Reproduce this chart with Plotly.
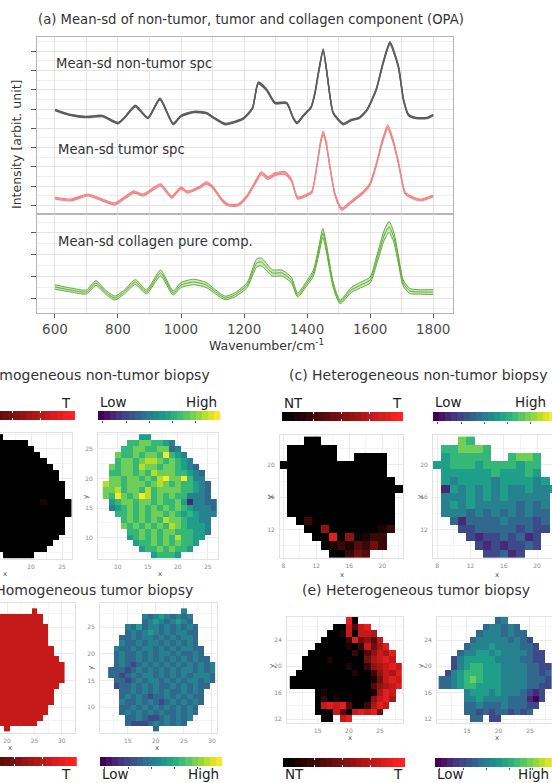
import plotly.graph_objects as go

W, H = 552, 783
FONT = "DejaVu Sans"

# ---------------- spectra (a) ----------------
nt_wn = [600, 650, 700, 750, 800, 820, 855, 895, 933, 975, 1000, 1040, 1080, 1100, 1140, 1170, 1200, 1227, 1245, 1272,
         1298, 1335, 1356, 1368, 1390, 1413, 1425, 1436, 1451, 1463, 1473, 1483, 1515, 1540, 1565, 1590, 1620, 1642,
         1663, 1690, 1706, 1722, 1745, 1780, 1800]
nt_mean = [1.04, 0.99, 0.97, 0.98, 0.91, 0.96, 1.08, 0.96, 1.15, 0.90, 0.98, 1.02, 1.01, 0.97, 0.90, 0.92, 0.96, 1.06,
           1.31, 1.24, 1.11, 1.11, 0.96, 0.91, 0.99, 1.07, 1.21, 1.41, 1.64, 1.41, 1.17, 1.01, 0.90, 0.94, 0.96, 1.04,
           1.25, 1.52, 1.71, 1.47, 1.14, 0.99, 0.96, 0.96, 0.99]
nt_sd = [0.006, 0.006, 0.006, 0.006, 0.007, 0.006, 0.007, 0.006, 0.007, 0.007, 0.006, 0.006, 0.006, 0.006, 0.007,
         0.006, 0.006, 0.007, 0.009, 0.008, 0.007, 0.007, 0.006, 0.007, 0.006, 0.007, 0.008, 0.009, 0.011, 0.009,
         0.008, 0.007, 0.007, 0.006, 0.006, 0.007, 0.008, 0.010, 0.012, 0.010, 0.008, 0.007, 0.006, 0.006, 0.006]

tu_wn = [600, 650, 705, 750, 790, 820, 850, 880, 935, 970, 1000, 1020, 1060, 1080, 1100, 1130, 1150, 1180, 1210, 1240,
         1255, 1275, 1300, 1330, 1350, 1370, 1400, 1415, 1432, 1443, 1451, 1460, 1471, 1489, 1510, 1540, 1579, 1600,
         1621, 1640, 1656, 1672, 1690, 1711, 1730, 1760, 1800]
tu_mean = [0.16, 0.14, 0.19, 0.14, 0.10, 0.16, 0.22, 0.19, 0.29, 0.17, 0.26, 0.22, 0.27, 0.31, 0.27, 0.14, 0.09, 0.09,
           0.18, 0.34, 0.41, 0.36, 0.40, 0.41, 0.34, 0.16, 0.19, 0.22, 0.50, 0.72, 0.81, 0.72, 0.50, 0.19, 0.05, 0.12,
           0.22, 0.30, 0.51, 0.74, 0.87, 0.74, 0.51, 0.21, 0.17, 0.14, 0.18]
tu_sd = [0.010, 0.010, 0.010, 0.010, 0.011, 0.010, 0.011, 0.010, 0.012, 0.011, 0.011, 0.011, 0.011, 0.012, 0.011,
         0.011, 0.011, 0.011, 0.012, 0.014, 0.015, 0.014, 0.014, 0.014, 0.013, 0.012, 0.011, 0.012, 0.015, 0.018,
         0.020, 0.018, 0.016, 0.013, 0.012, 0.011, 0.012, 0.013, 0.016, 0.019, 0.022, 0.019, 0.016, 0.013, 0.011,
         0.010, 0.010]

co_wn = [600, 650, 700, 730, 760, 790, 820, 855, 890, 935, 975, 1000, 1040, 1080, 1110, 1140, 1170, 1210, 1240, 1255,
         1290, 1320, 1350, 1370, 1400, 1420, 1437, 1450, 1463, 1480, 1492, 1505, 1540, 1570, 1600, 1621, 1645, 1660,
         1675, 1690, 1705, 1726, 1760, 1800]
co_mean = [0.26, 0.23, 0.21, 0.30, 0.21, 0.15, 0.21, 0.31, 0.21, 0.40, 0.20, 0.28, 0.31, 0.28, 0.21, 0.15, 0.18, 0.28,
           0.50, 0.51, 0.40, 0.40, 0.33, 0.18, 0.30, 0.40, 0.62, 0.80, 0.62, 0.32, 0.19, 0.11, 0.23, 0.28, 0.33, 0.53,
           0.78, 0.86, 0.76, 0.53, 0.30, 0.22, 0.21, 0.21]
co_sd = [0.022, 0.020, 0.020, 0.024, 0.020, 0.020, 0.020, 0.024, 0.020, 0.030, 0.020, 0.025, 0.028, 0.025, 0.020,
         0.018, 0.020, 0.025, 0.040, 0.040, 0.032, 0.030, 0.028, 0.020, 0.025, 0.030, 0.040, 0.045, 0.040, 0.030,
         0.022, 0.018, 0.025, 0.028, 0.030, 0.040, 0.050, 0.055, 0.050, 0.040, 0.030, 0.025, 0.022, 0.025]

wn_ticks = [600, 800, 1000, 1200, 1400, 1600, 1800]

# ---------------- score maps (b)-(e), rows from top (max y) downwards ----------------
b_x = list(range(8, 27))
b_ytop = 27
b_prob = [
    "......00...........",
    "....00000000.......",
    "...0000000000......",
    "..000000000000.....",
    "..0000000000000....",
    ".000000000000000...",
    ".0000000000000000..",
    ".0000000000000000..",
    "000000000000000000.",
    "000000000000000000.",
    "000000000000000000.",
    ".000000000000010000",
    ".000000000000000000",
    "..00000000000000000",
    "...000000000000000.",
    "...000000000000000.",
    "....00000000000000.",
    "....0000000000000..",
    ".....00000000000...",
    "......000000000....",
    "........00000......",
]
b_coll = [
    "......55...........",
    "....66776654.......",
    "...6677667734......",
    "..766767769654.....",
    "..6776788767654....",
    ".767768776776543...",
    ".6677676877766543..",
    ".7767767689779644..",
    "877677767876766543.",
    "778677686777766543.",
    "769767986767664443.",
    ".567767767667514433",
    ".456767676767654443",
    "..66767677676565444",
    "...676767687765544.",
    "...767676768765554.",
    "....66767677666554.",
    "....5676767686655..",
    ".....56676767665...",
    "......566767665....",
    "........56665......",
]

c_x = list(range(8, 23))
c_ytop = 23
c_prob = [
    "...00..........",
    ".000000........",
    ".000000..0000..",
    "0000000000000..",
    ".000000000000..",
    ".0000000000000.",
    ".00000000000000",
    ".0000000000000.",
    ".0000000000000.",
    ".0000000000000.",
    "..020000000000.",
    "...00500000012.",
    "....008050122..",
    ".....01213242..",
    "......00243....",
]
c_coll = [
    "...76..........",
    ".667776........",
    ".566666..6776..",
    "5566656666566..",
    ".555555655565..",
    ".5455554555545.",
    ".15454545445445",
    ".4445454544444.",
    ".4545444443434.",
    ".4443434343433.",
    "..313333433323.",
    "...22333332322.",
    "....212232312..",
    ".....21212232..",
    "......22312....",
]

d_x = list(range(12, 31))
d_ytop = 28
d_prob = [
    ".............7.....",
    "......777777777....",
    "......777777777....",
    "...7777777777777...",
    "...7777777777777...",
    "..77777777777777...",
    "..77777777777777...",
    ".7777777777777777..",
    ".7777777777777777..",
    ".77777777777777777.",
    ".777777777777777777",
    "7777777777777777777",
    "7777777777777777777",
    ".777777777777777777",
    ".77777777777777777.",
    "..777777777777777..",
    "..777777777777777..",
    "..777777777777777..",
    "..77777777777777...",
    "..77777777777777...",
    "...777777777777....",
    "...77777777777.....",
    "........7..........",
]
d_coll = [
    ".............4.....",
    "......434543434....",
    "......345434543....",
    "...4353443434343...",
    "...3434543434433...",
    "..33434434343443...",
    "..43343443434343...",
    ".4334344343434433..",
    ".3433434344343343..",
    ".34334343434343433.",
    ".343234343434343434",
    "3332343434343443434",
    "3323434434343434443",
    ".332343443434344343",
    ".23343434334343433.",
    "..334343434334343..",
    "..343432334343433..",
    "..433434323434343..",
    "..33434343434343...",
    "..34343434334343...",
    "...334322343434....",
    "...32223434343.....",
    "........3..........",
]

e_x = list(range(11, 29))
e_ytop = 27
e_prob = [
    ".........80.......",
    ".......007378.....",
    "......00170776....",
    ".....0000284537...",
    "....000001027468..",
    "...00000002035768.",
    "..000010000046787.",
    "..0000000100256787",
    ".00000000010025768",
    "000000000000014787",
    "000000000000035678",
    "....0100000001687.",
    "....0201000005786.",
    "....078783002687..",
    "....00073078784...",
    ".....00.78........",
]
e_coll = [
    ".........34.......",
    ".......344343.....",
    "......34443433....",
    ".....3444443432...",
    "....344454444332..",
    "...34455454444322.",
    "..245555544443322.",
    "..2456655544443322",
    ".24566655544443323",
    "334567655544443332",
    "334566555544443322",
    "....4555454443212.",
    "....4454444333102.",
    "....334333433322..",
    "....33232332323...",
    ".....33.22........",
]

bar_levels = list(range(20))
red_bar_ticks = [4.7, 9.3, 13.9]
vir_bar_ticks = [0.3, 4.1, 7.9, 11.7, 15.5]

RED_SCALE = [[0, "#000000"], [1, "#ff2222"]]
VIR_SCALE = "Viridis"

# ---------------- figure ----------------
fig = go.Figure()
lay = dict(width=W, height=H, margin=dict(l=0, r=0, t=0, b=0, autoexpand=False), paper_bgcolor="white",
           plot_bgcolor="white", showlegend=False, font=dict(family=FONT, color="#333333"),
           annotations=[])
n_axes = [0]


def add_axes(x0, x1, y0, y1, xkw, ykw):
    n_axes[0] += 1
    n = n_axes[0]
    s = "" if n == 1 else str(n)
    lay["xaxis" + s] = dict(domain=[max(0.0, x0 / W), min(1.0, x1 / W)], anchor="y" + s, **xkw)
    lay["yaxis" + s] = dict(domain=[max(0.0, 1 - y1 / H), min(1.0, 1 - y0 / H)], anchor="x" + s, **ykw)
    return "x" + s, "y" + s


def label(text, px, py, size, xanchor="center", color="#333333", angle=0):
    lay["annotations"].append(dict(text=text, x=px / W, y=1 - py / H, xref="paper", yref="paper",
                                   showarrow=False, xanchor=xanchor, yanchor="middle", textangle=angle,
                                   font=dict(size=size, color=color, family=FONT)))


GRID = "#e4e4e4"
FRAME = "#b5b5b5"


def spec_x(bottom):
    d = dict(range=[543, 1863], tickvals=wn_ticks, showgrid=True, gridcolor=GRID, gridwidth=1,
             minor=dict(tick0=600, dtick=100, showgrid=True, gridcolor=GRID, gridwidth=0.8),
             zeroline=False, showline=True, linecolor=FRAME, linewidth=1, mirror=True)
    if bottom:
        d.update(ticks="outside", ticklen=4, tickcolor="#555555",
                 tickfont=dict(size=13.5, color="#4d4d4d", family=FONT))
    else:
        d.update(showticklabels=False, ticks="")
    return d


def spec_y(rng, t0, dt):
    return dict(range=rng, tick0=t0, dtick=dt, ticks="outside", ticklen=5, tickcolor="#555555",
                showticklabels=False, showgrid=True, gridcolor=GRID, gridwidth=1,
                minor=dict(tick0=t0, dtick=dt / 2, showgrid=True, gridcolor="#efefef", gridwidth=0.8),
                zeroline=False, showline=True, linecolor=FRAME, linewidth=1, mirror=True)


xa1, ya1 = add_axes(37, 453, 37, 214, spec_x(False), spec_y([0, 1.77], 0.085, 0.193))
xa2, ya2 = add_axes(37, 453, 214, 313, spec_x(True), spec_y([0, 0.99], 0.15, 0.217))


def band(xr, yr, wn, mean, sd, color, width, fillcolor=None):
    lo = [m - s for m, s in zip(mean, sd)]
    hi = [m + s for m, s in zip(mean, sd)]
    ln = dict(color=color, width=width, shape="spline", smoothing=0.6)
    fig.add_trace(go.Scatter(x=wn, y=lo, mode="lines", line=ln, xaxis=xr, yaxis=yr, hoverinfo="skip"))
    fig.add_trace(go.Scatter(x=wn, y=hi, mode="lines", line=ln, xaxis=xr, yaxis=yr, hoverinfo="skip",
                             fill="tonexty" if fillcolor else None, fillcolor=fillcolor))
    fig.add_trace(go.Scatter(x=wn, y=mean, mode="lines", line=ln, xaxis=xr, yaxis=yr, hoverinfo="skip"))


band(xa1, ya1, nt_wn, nt_mean, nt_sd, "#5e5e5e", 1.4)
band(xa1, ya1, tu_wn, tu_mean, tu_sd, "#f08585", 1.1, "rgba(240,133,133,0.5)")
band(xa2, ya2, co_wn, co_mean, co_sd, "#5fae35", 1.0, "rgba(120,190,80,0.35)")

label("(a) Mean-sd of non-tumor, tumor and collagen component (OPA)", 36, 20, 13.2, "left")
label("Mean-sd non-tumor spc", 54, 63, 13.2, "left")
label("Mean-sd tumor spc", 56, 149, 13.2, "left")
label("Mean-sd collagen pure comp.", 56, 241, 13.2, "left")
label("Intensity [arbit. unit]", 17, 145, 12.5, angle=-90)
label("Wavenumber/cm<sup>-1</sup>", 266, 345, 12.5)


# ---------------- maps ----------------
def parse(grid):
    width = max(len(r) for r in grid)
    rows = []
    for s in grid:
        s = s.ljust(width, ".")
        rows.append([None if ch == "." else int(ch) for ch in s])
    return rows[::-1]


def map_axes(x0, x1, y0, y1, xr, yr, xdt, ydt, xlab=True, ylab=True):
    common = dict(tick0=0, showgrid=True, gridcolor="#ebebeb", gridwidth=1, zeroline=False,
                  showline=True, mirror=True, linecolor="#e2e2e2", linewidth=1, ticks="",
                  tickfont=dict(size=6, color="#8a8a8a", family=FONT))
    xkw = dict(range=xr, dtick=xdt, showticklabels=xlab, ticklabelstandoff=2,
               minor=dict(tick0=0, dtick=xdt / 2, showgrid=True, gridcolor="#f4f4f4", gridwidth=0.6), **common)
    ykw = dict(range=yr, dtick=ydt, showticklabels=ylab, ticklabelstandoff=3,
               minor=dict(tick0=0, dtick=ydt / 2, showgrid=True, gridcolor="#f4f4f4", gridwidth=0.6), **common)
    return add_axes(x0, x1, y0, y1, xkw, ykw)


def add_map(axes, xs, ytop, grid, scale):
    z = parse(grid)
    ys = list(range(ytop - len(grid) + 1, ytop + 1))
    fig.add_trace(go.Heatmap(z=z, x=xs, y=ys, colorscale=scale, zmin=0, zmax=9, showscale=False,
                             xaxis=axes[0], yaxis=axes[1], hoverinfo="skip"))


# (b)
add_map(map_axes(0, 72, 433, 559, [15.0, 26.6], [6.4, 27.7], 5, 5, True, False), b_x, b_ytop, b_prob, RED_SCALE)
add_map(map_axes(98, 218, 433, 559, [6.7, 26.7], [6.4, 27.7], 5, 5), b_x, b_ytop, b_coll, VIR_SCALE)
# (c)
add_map(map_axes(280, 403, 435, 558, [7.6, 22.5], [8.5, 23.7], 4, 4), c_x, c_ytop, c_prob, RED_SCALE)
add_map(map_axes(433, 552, 435, 558, [7.5, 21.8], [8.5, 23.7], 4, 4), c_x, c_ytop, c_coll, VIR_SCALE)
# (d)
add_map(map_axes(0, 75, 603, 733, [18.7, 32.4], [5.2, 29.5], 5, 5, True, False), d_x, d_ytop, d_prob, RED_SCALE)
add_map(map_axes(100, 217, 603, 733, [10.05, 30.9], [5.2, 29.5], 5, 5), d_x, d_ytop, d_coll, VIR_SCALE)
# (e)
add_map(map_axes(287, 403, 617, 723, [10.05, 28.7], [11.4, 27.5], 5, 4), e_x, e_ytop, e_prob, RED_SCALE)
add_map(map_axes(437, 552, 617, 723, [10.24, 28.5], [11.4, 27.5], 5, 4), e_x, e_ytop, e_coll, VIR_SCALE)


# ---------------- colour bars ----------------
def add_bar(x0, x1, y0, y1, xr, scale, red):
    if red:
        xkw = dict(range=xr, showgrid=False, zeroline=False, showline=False, showticklabels=False,
                   tickvals=red_bar_ticks, ticks="inside", ticklen=2, tickwidth=1, tickcolor="#ffffff",
                   mirror="ticks")
    else:
        xkw = dict(range=xr, showgrid=False, zeroline=False, showline=False, showticklabels=False,
                   tickvals=vir_bar_ticks, ticks="outside", ticklen=2, tickwidth=1, tickcolor="#555555")
    ykw = dict(range=[-0.5, 0.5], visible=False)
    ax = add_axes(x0, x1, y0, y1, xkw, ykw)
    fig.add_trace(go.Heatmap(z=[bar_levels], x=bar_levels, y=[0], colorscale=scale, zmin=0, zmax=19,
                             showscale=False, xaxis=ax[0], yaxis=ax[1], hoverinfo="skip"))


add_bar(0, 75, 411, 420, [7.2, 19.5], RED_SCALE, True)
add_bar(98, 220, 411, 420, [-0.5, 19.5], VIR_SCALE, False)
add_bar(282, 403, 412, 421, [-0.5, 19.5], RED_SCALE, True)
add_bar(433, 552, 412, 421, [-0.5, 19.0], VIR_SCALE, False)
add_bar(0, 77, 757, 766, [6.9, 19.5], RED_SCALE, True)
add_bar(100, 222, 757, 766, [-0.5, 19.5], VIR_SCALE, False)
add_bar(283, 405, 758, 767, [-0.5, 19.5], RED_SCALE, True)
add_bar(435, 552, 758, 767, [-0.5, 18.7], VIR_SCALE, False)

# ---------------- lower titles and labels ----------------
label("(b) Homogeneous non-tumor biopsy", 212, 375, 14, "right")
label("(c) Heterogeneous non-tumor biopsy", 418, 375, 14)
label("(d) Homogeneous tumor biopsy", 195, 590, 14, "right")
label("(e) Heterogeneous tumor biopsy", 416, 590, 14)

LC = "#222222"
label("T", 73, 403, 13.5, "right", LC)
label("Low", 98, 402, 13.5, "left", LC)
label("High", 219, 402, 13.5, "right", LC)
label("NT", 282, 403, 13.5, "left", LC)
label("T", 404, 403, 13.5, "right", LC)
label("Low", 433, 402, 13.5, "left", LC)
label("High", 548, 402, 13.5, "right", LC)
label("T", 73, 774, 13.5, "right", LC)
label("Low", 100, 774, 13.5, "left", LC)
label("High", 221, 774, 13.5, "right", LC)
label("NT", 283, 774, 13.5, "left", LC)
label("T", 405, 774, 13.5, "right", LC)
label("Low", 435, 774, 13.5, "left", LC)
label("High", 551, 774, 13.5, "right", LC)

AX = "#555555"
for txt, px, py, ang in [("x", 5, 574, 0), ("x", 160, 574, 0), ("y", 86, 497, -90),
                         ("x", 342, 575, 0), ("y", 270, 497, -90), ("x", 497, 575, 0), ("y", 420, 497, -90),
                         ("x", 10, 748, 0), ("x", 157, 748, 0), ("y", 91, 668, -90),
                         ("x", 350, 738, 0), ("y", 272, 666, -90), ("x", 497, 738, 0), ("y", 421, 666, -90)]:
    label(txt, px, py, 7, "center", AX, ang)

fig.update_layout(**lay)
fig.write_html("out.html", config={"displayModeBar": False},
               post_script="document.body.style.margin='0px';document.body.style.overflow='hidden';")
